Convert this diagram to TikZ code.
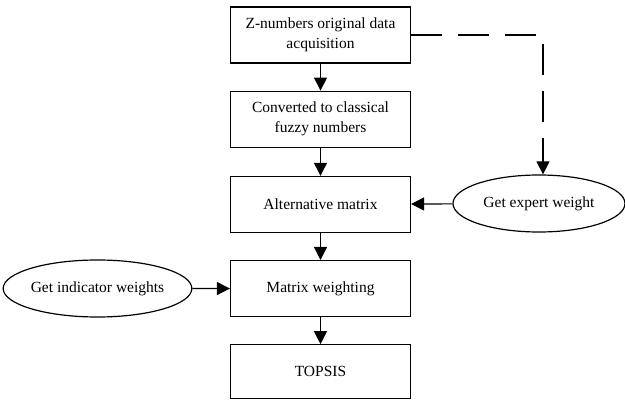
\documentclass[tikz,border=0pt]{standalone}
\usepackage{fontspec}
\setmainfont{Liberation Serif}
\usetikzlibrary{positioning,arrows.meta,shapes.geometric}
\tikzset{>={Triangle[length=13pt,width=13pt]}}

\begin{document}
\begin{tikzpicture}[x=1pt, y=-1pt, line width=1.2pt, font=\fontsize{15.5}{20}\selectfont,
    box/.style={draw, rectangle, minimum width=180pt, minimum height=56pt, align=center, inner sep=0pt},
    oval/.style={draw, ellipse, minimum height=57pt, inner sep=0pt}]
      \useasboundingbox (0,0) rectangle (625,401);
      \node[box] (acq) at (320.5,35) {Z-numbers original data\\acquisition};
      \node[box] (fuzzy) [below=27pt of acq] {Converted to classical\\fuzzy numbers};
      \node[box] (alt) [below=28pt of fuzzy] {Alternative matrix};
      \node[box] (wmat) [below=27pt of alt] {Matrix weighting};
      \node[box, minimum height=54pt] (topsis) [below=27pt of wmat] {TOPSIS};
      \node[oval, minimum width=172pt] (expert) at (539,203.5) {Get expert weight}; %right side
      \node[oval, minimum width=181pt] (indic) at (97.5,288.5) {Get indicator weights};
      \path[->] (acq) edge (fuzzy)
                (fuzzy) edge (alt)
                (alt) edge (wmat)
                (wmat) edge (topsis)
                (expert) edge (alt)
                (indic) edge (wmat);
      \draw[->, dash pattern=on 31pt off 16pt] (acq.east) -| ([xshift=4pt]expert.north);
\end{tikzpicture}
\end{document}
